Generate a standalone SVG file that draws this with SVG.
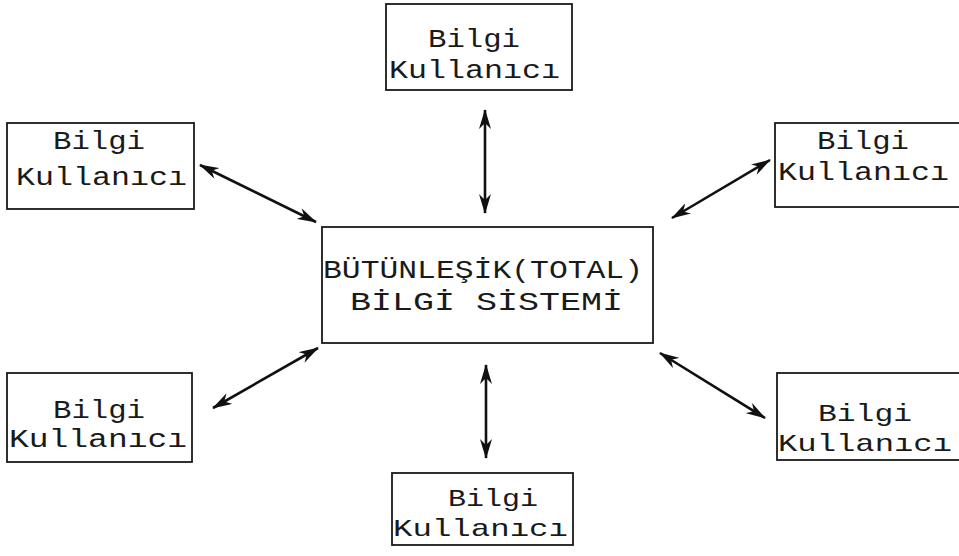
<svg xmlns="http://www.w3.org/2000/svg" width="959" height="556" viewBox="0 0 959 556">
  <defs>
    <style>
      .box { fill: #ffffff; stroke: #1a1a1a; stroke-width: 1.8; }
      .lbl { font-family: "Liberation Mono", "Courier New", monospace; font-size: 26px; fill: #1a1a1a; }
      .tight { font-size: 24px; }
      .link { stroke: #111111; stroke-width: 2.6; fill: none; marker-start: url(#head); marker-end: url(#head); }
    </style>
    <marker id="head" viewBox="0 0 20 12" refX="19" refY="6" markerWidth="20" markerHeight="12" markerUnits="userSpaceOnUse" orient="auto-start-reverse">
      <path d="M0,0 L20,6 L0,12 L6,6 Z" fill="#111111"/>
    </marker>
  </defs>
  <rect width="959" height="556" fill="#ffffff"/>

  <g id="connectors">
    <line class="link" x1="485" y1="110" x2="485" y2="213"/>
    <line class="link" x1="200" y1="165" x2="316" y2="222"/>
    <line class="link" x1="672" y1="218" x2="770" y2="160"/>
    <line class="link" x1="213" y1="408" x2="318" y2="348"/>
    <line class="link" x1="660" y1="353" x2="765" y2="418"/>
    <line class="link" x1="486" y1="365" x2="486" y2="458"/>
  </g>

  <g id="center">
    <rect class="box" x="322" y="227" width="331" height="116"/>
    <text class="lbl" x="323" y="278" textLength="320" lengthAdjust="spacingAndGlyphs">BÜTÜNLEŞİK(TOTAL)</text>
    <text class="lbl" x="350" y="310" textLength="273" lengthAdjust="spacingAndGlyphs">BİLGİ SİSTEMİ</text>
  </g>

  <g id="user-top">
    <rect class="box" x="386" y="4" width="186" height="86"/>
    <text class="lbl" x="428" y="47" textLength="92" lengthAdjust="spacingAndGlyphs">Bilgi</text>
    <text class="lbl" x="389" y="78" textLength="171" lengthAdjust="spacingAndGlyphs">Kullanıcı</text>
  </g>

  <g id="user-top-left">
    <rect class="box" x="7" y="123" width="187" height="86"/>
    <text class="lbl" x="53" y="149" textLength="92" lengthAdjust="spacingAndGlyphs">Bilgi</text>
    <text class="lbl" x="16" y="185" textLength="171" lengthAdjust="spacingAndGlyphs">Kullanıcı</text>
  </g>

  <g id="user-top-right">
    <rect class="box" x="775" y="123" width="190" height="84"/>
    <text class="lbl" x="817" y="149" textLength="92" lengthAdjust="spacingAndGlyphs">Bilgi</text>
    <text class="lbl" x="778" y="180" textLength="171" lengthAdjust="spacingAndGlyphs">Kullanıcı</text>
  </g>

  <g id="user-bottom-left">
    <rect class="box" x="7" y="373" width="185" height="89"/>
    <text class="lbl" x="53" y="418" textLength="92" lengthAdjust="spacingAndGlyphs">Bilgi</text>
    <text class="lbl" x="9" y="447" textLength="178" lengthAdjust="spacingAndGlyphs">Kullanıcı</text>
  </g>

  <g id="user-bottom-right">
    <rect class="box" x="777" y="373" width="190" height="87"/>
    <text class="lbl tight" x="818" y="421" textLength="94" lengthAdjust="spacingAndGlyphs">Bilgi</text>
    <text class="lbl tight" x="778" y="451" textLength="174" lengthAdjust="spacingAndGlyphs">Kullanıcı</text>
  </g>

  <g id="user-bottom">
    <rect class="box" x="392" y="473" width="181" height="72"/>
    <text class="lbl tight" x="448" y="506" textLength="90" lengthAdjust="spacingAndGlyphs">Bilgi</text>
    <text class="lbl tight" x="393" y="536" textLength="175" lengthAdjust="spacingAndGlyphs">Kullanıcı</text>
  </g>
</svg>
